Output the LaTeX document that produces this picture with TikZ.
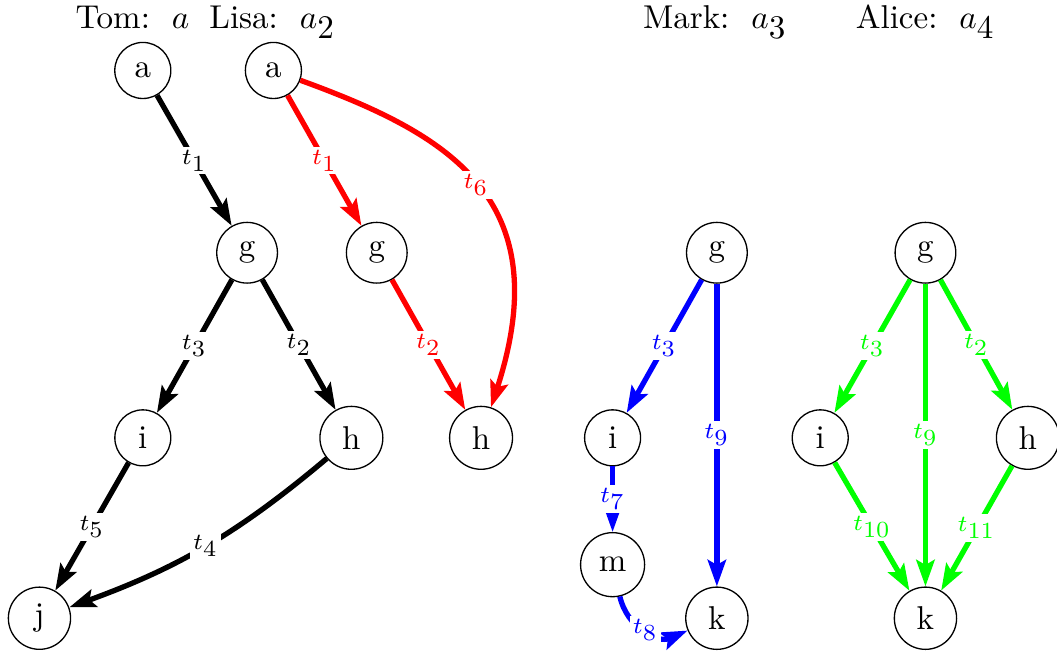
\documentclass[tikz,border=0pt]{standalone}
\usepackage{amsmath}
\usepackage{tikz}
\usetikzlibrary{arrows.meta}
\usepackage{xcolor}
\definecolor{tomblack}{RGB}{0, 0, 0}
\definecolor{lisared}{RGB}{255, 0, 0}
\definecolor{markblue}{RGB}{0, 0, 255}
\definecolor{alicegreen}{RGB}{0, 255, 0}
\DeclareMathSizes{10}{10}{10}{7}
\DeclareMathSizes{7}{7}{7}{5}

\begin{document}
\begin{tikzpicture}[
        state/.style={circle, draw, thin, inner sep=3.6pt},
        trans/.style={line width=1.6pt,
                      -{Stealth[length=8pt, width=5.5pt, inset=1.5pt]}},
        lbl/.style={fill=white, inner sep=1pt, font=\scriptsize},
        title/.style={anchor=base},
      ]
        \useasboundingbox (0,0) rectangle (11.25,6.92);

        \node[title] (ttom) at (1.41,6.62) {Tom:\ \ $a$};
        \node[title] (tlisa) at (2.90,6.62) {Lisa:\ \ $a_2$};
        \node[title] (tmark) at (7.61,6.62) {Mark:\ \ $a_3$};
        \node[title] (talice) at (9.85,6.62) {Alice:\ \ $a_4$};

        % Tom
        \node[state] (a1) at (1.52,6.17) {a};
        \node[state] (g1) at (2.63,4.23) {g};
        \node[state] (i1) at (1.52,2.26) {i};
        \node[state] (h1) at (3.74,2.26) {h};
        \node[state] (j1) at (0.42,0.34) {j};

        \draw[trans, tomblack] (a1) -- node[lbl] {$t_1$} (g1);
        \draw[trans, tomblack] (g1) -- node[lbl] {$t_3$} (i1);
        \draw[trans, tomblack] (g1) -- node[lbl] {$t_2$} (h1);
        \draw[trans, tomblack] (i1) -- node[lbl] {$t_5$} (j1);
        \draw[trans, tomblack] (h1) to[bend left=10] node[lbl] {$t_4$} (j1);

        % Lisa
        \node[state] (a2) at (2.91,6.17) {a};
        \node[state] (g2) at (4.01,4.23) {g};
        \node[state] (h2) at (5.12,2.26) {h};

        \draw[trans, lisared] (a2) -- node[lbl] {$t_1$} (g2);
        \draw[trans, lisared] (g2) -- node[lbl] {$t_2$} (h2);
        \draw[trans, lisared] (a2) to[out=-20, in=72,
                                      out looseness=1.05, in looseness=1.5]
          node[lbl] {$t_6$} (h2);

        % Mark
        \node[state] (g3) at (7.63,4.23) {g};
        \node[state] (i3) at (6.52,2.26) {i};
        \node[state] (m3) at (6.52,0.91) {m};
        \node[state] (k3) at (7.63,0.34) {k};

        \draw[trans, markblue] (g3) -- node[lbl] {$t_3$} (i3);
        \draw[trans, markblue] (g3) -- node[lbl] {$t_9$} (k3);
        \draw[trans, markblue] (i3) -- node[lbl] {$t_7$} (m3);
        \draw[trans, markblue] (m3) to[bend right=50, looseness=1.1]
          node[lbl] {$t_8$} (k3);

        % Alice
        \node[state] (g4) at (9.85,4.23) {g};
        \node[state] (i4) at (8.73,2.26) {i};
        \node[state] (h4) at (10.94,2.26) {h};
        \node[state] (k4) at (9.85,0.34) {k};

        \draw[trans, alicegreen] (g4) -- node[lbl] {$t_3$} (i4);
        \draw[trans, alicegreen] (g4) -- node[lbl] {$t_9$} (k4);
        \draw[trans, alicegreen] (g4) -- node[lbl] {$t_2$} (h4);
        \draw[trans, alicegreen] (i4) -- node[lbl] {$t_{10}$} (k4);
        \draw[trans, alicegreen] (h4) -- node[lbl] {$t_{11}$} (k4);
      \end{tikzpicture}
\end{document}
